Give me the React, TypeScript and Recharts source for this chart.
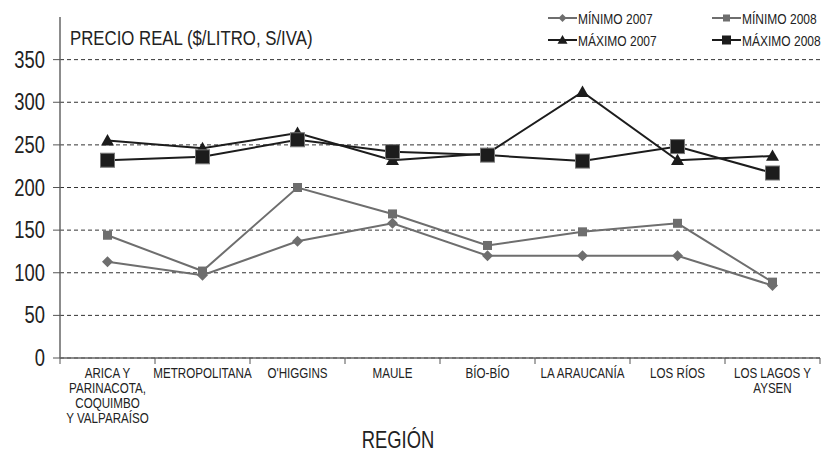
import React from 'react';
import { LineChart, Line, XAxis, YAxis, CartesianGrid } from 'recharts';

const regions = [
  'ARICA Y\nPARINACOTA,\nCOQUIMBO\nY VALPARAÍSO',
  'METROPOLITANA',
  "O'HIGGINS",
  'MAULE',
  'BÍO-BÍO',
  'LA ARAUCANÍA',
  'LOS RÍOS',
  'LOS LAGOS Y\nAYSEN',
];
const minimo2007 = [113, 97, 137, 158, 120, 120, 120, 85];
const minimo2008 = [144, 102, 200, 169, 132, 148, 158, 89];
const maximo2007 = [255, 246, 264, 232, 240, 312, 232, 237];
const maximo2008 = [232, 236, 256, 242, 238, 231, 248, 217];
const yTicks = [0, 50, 100, 150, 200, 250, 300, 350];

const data = regions.map((region, i) => ({
  region,
  min07: minimo2007[i],
  min08: minimo2008[i],
  max07: maximo2007[i],
  max08: maximo2008[i],
}));

const FONT = '"Liberation Sans", Arial, sans-serif';
const SQUEEZE = 0.8;
const GRAY = '#6e6e6e';
const BLACK = '#1c1c1c';
const INK = '#222';

const W = 824;
const H = 451;
const M = { top: 17, right: 4, left: 8, bottom: 0 };
const Y_AXIS_W = 52;
const PLOT_W = W - M.left - M.right - Y_AXIS_W;
const BAND = PLOT_W / regions.length;

// condensed text: regular sans squeezed horizontally
const Narrow = ({ x, y, size, anchor = 'start', children }: any) => (
  <text
    transform={`translate(${x},${y}) scale(${SQUEEZE},1)`}
    textAnchor={anchor}
    fontFamily={FONT}
    fontSize={size}
    fill={INK}
  >
    {children}
  </text>
);

const Diamond = ({ cx, cy, fill, s }: any) => (
  <path d={`M${cx},${cy - s}L${cx + s},${cy}L${cx},${cy + s}L${cx - s},${cy}Z`} fill={fill} />
);
const Square = ({ cx, cy, fill, s, stroke }: any) => (
  <rect x={cx - s} y={cy - s} width={2 * s} height={2 * s} fill={fill} stroke={stroke} strokeWidth={stroke ? 1 : 0} />
);
const Triangle = ({ cx, cy, fill, s }: any) => (
  <path d={`M${cx},${cy - s}L${cx + s},${cy + s * 0.75}L${cx - s},${cy + s * 0.75}Z`} fill={fill} />
);

const RegionTick = (props: any) => {
  const { x, y, payload, index } = props;
  const lines = String(payload.value).split('\n');
  const left = x - BAND / 2;
  return (
    <g>
      <line x1={left} y1={y - 8} x2={left} y2={y - 2} stroke="#555" strokeWidth={1} />
      {index === regions.length - 1 && (
        <line x1={left + BAND} y1={y - 8} x2={left + BAND} y2={y - 2} stroke="#555" strokeWidth={1} />
      )}
      {lines.map((l, i) => (
        <Narrow key={i} x={x} y={y + 12 + i * 15} size={14.5} anchor="middle">
          {l}
        </Narrow>
      ))}
    </g>
  );
};

const ValueTick = (props: any) => {
  const { x, y, payload } = props;
  return (
    <Narrow x={x - 4} y={y + 8} size={23} anchor="end">
      {payload.value}
    </Narrow>
  );
};

const legendItems = [
  { name: 'MÍNIMO 2007', color: GRAY, marker: (cx: number, cy: number) => <Diamond cx={cx} cy={cy} fill={GRAY} s={4} /> },
  { name: 'MÍNIMO 2008', color: GRAY, marker: (cx: number, cy: number) => <Square cx={cx} cy={cy} fill={GRAY} s={3.5} /> },
  { name: 'MÁXIMO 2007', color: BLACK, marker: (cx: number, cy: number) => <Triangle cx={cx} cy={cy} fill={BLACK} s={5} /> },
  { name: 'MÁXIMO 2008', color: BLACK, marker: (cx: number, cy: number) => <Square cx={cx} cy={cy} fill={BLACK} s={4.5} /> },
];

const LegendBox = () => (
  <svg width={280} height={52} style={{ position: 'absolute', left: 546, top: 0 }}>
    {legendItems.map((it, i) => {
      const col = i % 2;
      const row = Math.floor(i / 2);
      const x0 = 2 + col * 164;
      const y0 = 18 + row * 22;
      return (
        <g key={it.name}>
          <line x1={x0} y1={y0} x2={x0 + 29} y2={y0} stroke={it.color} strokeWidth={2} />
          {it.marker(x0 + 14.5, y0)}
          <Narrow x={x0 + 30} y={y0 + 5.5} size={15}>
            {it.name}
          </Narrow>
        </g>
      );
    })}
  </svg>
);

export default function App() {
  return (
    <div style={{ position: 'absolute', left: 0, top: 0, width: W, height: H, background: '#fff' }}>
      <LineChart width={W} height={H} data={data} margin={M}>
        <CartesianGrid
          horizontal
          vertical={false}
          horizontalValues={yTicks}
          stroke="#333"
          strokeDasharray="4 3"
        />
        <XAxis
          dataKey="region"
          height={93}
          interval={0}
          padding={{ left: BAND / 2, right: BAND / 2 }}
          tickLine={false}
          axisLine={{ stroke: '#666', strokeWidth: 1.5 }}
          tick={<RegionTick />}
        />
        <YAxis
          width={Y_AXIS_W}
          domain={[0, 400]}
          ticks={yTicks}
          interval={0}
          tickSize={7}
          tickLine={{ stroke: '#555' }}
          axisLine={{ stroke: '#666', strokeWidth: 1.5 }}
          tick={<ValueTick />}
          tickMargin={4}
        />
        <Line
          dataKey="min07"
          stroke={GRAY}
          strokeWidth={2}
          isAnimationActive={false}
          dot={(p: any) => <Diamond key={p.index} cx={p.cx} cy={p.cy} fill={GRAY} s={5.5} />}
        />
        <Line
          dataKey="min08"
          stroke={GRAY}
          strokeWidth={2}
          isAnimationActive={false}
          dot={(p: any) => <Square key={p.index} cx={p.cx} cy={p.cy} fill={GRAY} s={4.5} />}
        />
        <Line
          dataKey="max07"
          stroke={BLACK}
          strokeWidth={2}
          isAnimationActive={false}
          dot={(p: any) => <Triangle key={p.index} cx={p.cx} cy={p.cy} fill={BLACK} s={6.5} />}
        />
        <Line
          dataKey="max08"
          stroke={BLACK}
          strokeWidth={2}
          isAnimationActive={false}
          dot={(p: any) => <Square key={p.index} cx={p.cx} cy={p.cy} fill={BLACK} s={7} stroke="#777" />}
        />
      </LineChart>
      <LegendBox />
      <svg width={W} height={H} style={{ position: 'absolute', left: 0, top: 0, pointerEvents: 'none' }}>
        <Narrow x={70} y={45} size={21}>
          PRECIO REAL ($/LITRO, S/IVA)
        </Narrow>
        <Narrow x={398} y={448} size={23} anchor="middle">
          REGIÓN
        </Narrow>
      </svg>
    </div>
  );
}
